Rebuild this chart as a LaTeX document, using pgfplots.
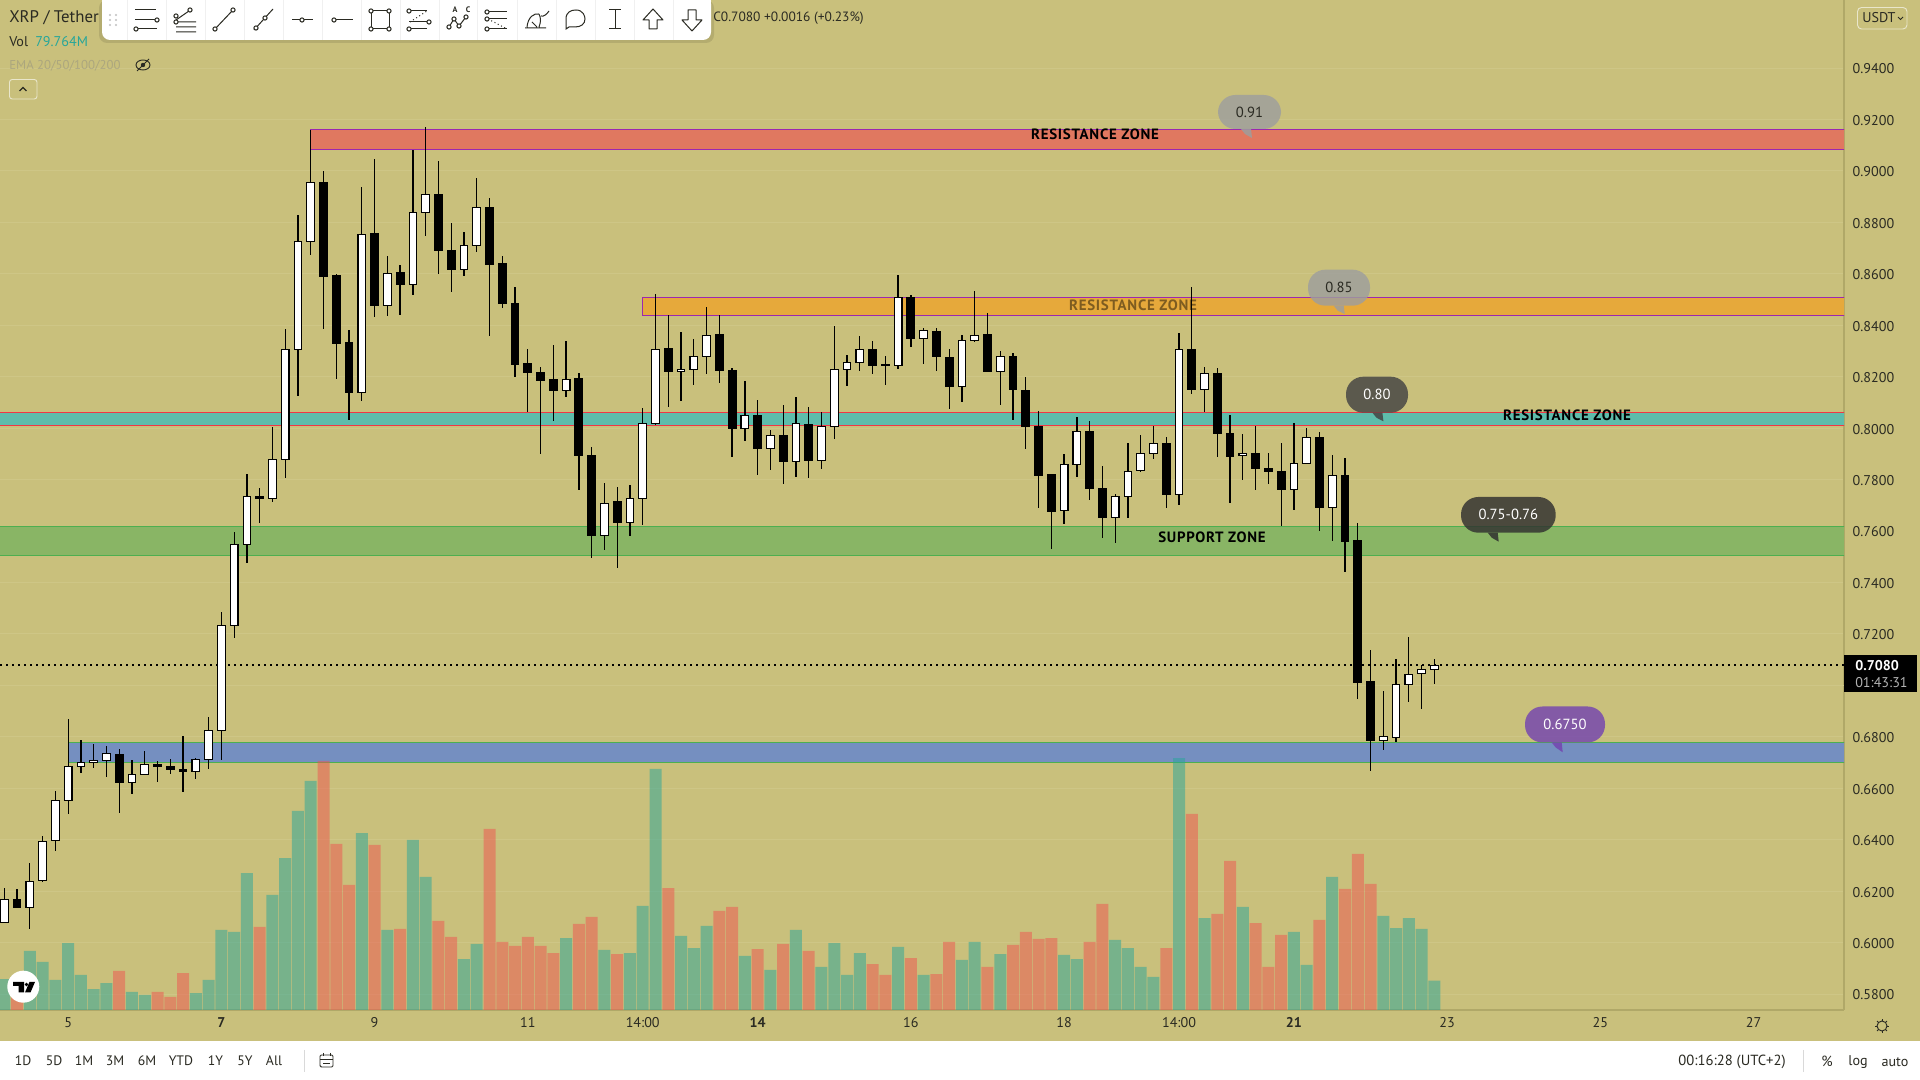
\documentclass[border=0pt]{standalone}
\usepackage{fontspec}
\setmainfont{PT Sans}
\newfontfamily\zonefont[LetterSpace=5]{PT Sans}
\usepackage{pgfplots}
\usepackage{pgfplotstable}
\pgfplotsset{compat=1.18}
\definecolor{bgc}{HTML}{C9C07C}
\definecolor{gridc}{HTML}{CEC686}
\definecolor{axc}{HTML}{B0A868}
\definecolor{txt}{HTML}{2A2A22}
\definecolor{zredf}{HTML}{E07860}
\definecolor{zorgf}{HTML}{E6A93B}
\definecolor{ztealf}{HTML}{5EBCAB}
\definecolor{zgrnf}{HTML}{89B565}
\definecolor{zbluf}{HTML}{758FC0}
\definecolor{zpurl}{HTML}{9C27B0}
\definecolor{zredl}{HTML}{F23645}
\definecolor{zgrnl}{HTML}{4CAF50}
\definecolor{volg}{HTML}{26A69A}
\definecolor{volr}{HTML}{EF5350}
\definecolor{bub1}{HTML}{9E9E9E}
\definecolor{bub2}{HTML}{434343}
\definecolor{bub3}{HTML}{303030}
\definecolor{bub4}{HTML}{7444B0}
\pgfplotstableread{
i low bot top high up vol
0 .6077 .6077 .6168 .6211 1 84.3
1 .6135 .6135 .6168 .6207 0 54.4
2 .6054 .6137 .6238 .6308 1 160.5
3 .6235 .6240 .6393 .6413 1 130.6
4 .6357 .6397 .6553 .6588 1 81.6
5 .6501 .6553 .6685 .6869 1 182.2
6 .6660 .6684 .6701 .6786 1 95.2
7 .6680 .6701 .6708 .6771 1 57.1
8 .6645 .6707 .6736 .6763 1 73.4
9 .6505 .6621 .6732 .6751 0 106.1
10 .6579 .6621 .6654 .6708 1 49.0
11 .6654 .6654 .6693 .6743 1 40.8
12 .6625 .6684 .6693 .6705 0 49.0
13 .6656 .6672 .6685 .6712 0 35.4
14 .6586 .6664 .6673 .6802 0 100.6
15 .6637 .6666 .6712 .6716 1 46.2
16 .6676 .6712 .6825 .6876 1 81.6
17 .6710 .6825 .7233 .7285 1 217.6
18 .7185 .7233 .7548 .7595 1 212.2
19 .7477 .7548 .7735 .7820 1 372.6
20 .7632 .7725 .7735 .7766 0 225.8
21 .7714 .7725 .7879 .8004 1 312.8
22 .7807 .7879 .8306 .8385 1 413.4
23 .8126 .8306 .8726 .8827 1 541.3
24 .8674 .8726 .8956 .9159 1 622.9
25 .8386 .8589 .8953 .9000 0 677.3
26 .8192 .8328 .8591 .8599 0 451.5
27 .8033 .8138 .8331 .8381 0 340.0
28 .8106 .8138 .8753 .8937 1 481.4
29 .8433 .8476 .8755 .9046 0 448.8
30 .8437 .8476 .8602 .8669 1 217.6
31 .8441 .8558 .8603 .8634 0 220.3
32 .8519 .8559 .8839 .9081 1 462.4
33 .8748 .8839 .8909 .9170 1 361.8
34 .8600 .8690 .8909 .9038 0 242.1
35 .8530 .8616 .8691 .8797 0 198.6
36 .8592 .8616 .8711 .8761 1 138.7
37 .8686 .8711 .8858 .8971 1 179.5
38 .8359 .8635 .8858 .8893 0 492.3
39 .8468 .8484 .8638 .8669 0 185.0
40 .8200 .8246 .8486 .8549 0 174.1
41 .8064 .8215 .8249 .8308 0 198.6
42 .7900 .8184 .8214 .8238 0 174.1
43 .8028 .8145 .8187 .8322 0 155.0
44 .8122 .8145 .8190 .8337 1 195.8
45 .7760 .7893 .8191 .8213 0 233.9
46 .7496 .7582 .7895 .7927 0 253.0
47 .7527 .7582 .7708 .7787 1 163.2
48 .7457 .7632 .7713 .7771 0 152.3
49 .7582 .7632 .7727 .7779 1 155.0
50 .7624 .7725 .8019 .8077 1 282.9
51 .8012 .8017 .8306 .8520 1 655.5
52 .8083 .8219 .8308 .8439 0 331.8
53 .8106 .8219 .8229 .8372 1 201.3
54 .8169 .8229 .8279 .8345 1 168.6
55 .8212 .8279 .8361 .8470 1 228.5
56 .8177 .8223 .8362 .8439 0 269.3
57 .7889 .7998 .8225 .8232 0 280.2
58 .7951 .7998 .8050 .8182 1 146.9
59 .7819 .7920 .8050 .8108 0 165.9
60 .7838 .7920 .7972 .7991 1 108.8
61 .7784 .7869 .7972 .8089 0 179.5
62 .7811 .7871 .8019 .8120 1 217.6
63 .7807 .7873 .8015 .8081 0 160.5
64 .7842 .7873 .8007 .8061 1 117.0
65 .7959 .8007 .8229 .8396 1 182.2
66 .8165 .8229 .8256 .8283 1 95.2
67 .8223 .8256 .8306 .8357 1 155.0
68 .8212 .8243 .8306 .8337 0 125.1
69 .8169 .8243 .8248 .8279 0 95.2
70 .8231 .8244 .8508 .8594 1 171.4
71 .8316 .8348 .8508 .8516 0 141.4
72 .8250 .8349 .8380 .8388 1 95.2
73 .8223 .8278 .8376 .8388 0 97.9
74 .8075 .8161 .8275 .8306 0 185.0
75 .8103 .8163 .8341 .8361 1 136.0
76 .8336 .8341 .8361 .8532 1 185.0
77 .8219 .8219 .8365 .8446 0 117.0
78 .8091 .8221 .8279 .8299 1 152.3
79 .8033 .8149 .8279 .8291 0 176.8
80 .7920 .8005 .8147 .8197 0 212.2
81 .7690 .7815 .8007 .8065 0 193.1
82 .7531 .7675 .7821 .7821 0 195.8
83 .7628 .7680 .7859 .7898 1 149.6
84 .7811 .7859 .7987 .8042 1 138.7
85 .7722 .7764 .7987 .8026 0 185.0
86 .7574 .7652 .7766 .7851 0 288.3
87 .7554 .7653 .7733 .7743 1 190.4
88 .7652 .7733 .7832 .7941 1 168.6
89 .7830 .7834 .7902 .7972 1 117.0
90 .7881 .7902 .7941 .8007 1 89.8
91 .7690 .7741 .7941 .7964 0 168.6
92 .7702 .7742 .8306 .8369 1 685.4
93 .8134 .8149 .8306 .8547 0 533.1
94 .8064 .8151 .8213 .8236 1 250.2
95 .7889 .7978 .8213 .8232 0 261.1
96 .7710 .7889 .7980 .8050 0 405.3
97 .7799 .7894 .7902 .7976 1 280.2
98 .7760 .7842 .7902 .8007 0 236.6
99 .7784 .7832 .7844 .7902 0 117.0
100 .7620 .7760 .7832 .7941 0 204.0
101 .7683 .7762 .7863 .8019 1 212.2
102 .7863 .7863 .7964 .7999 1 122.4
103 .7601 .7690 .7964 .7984 0 244.8
104 .7562 .7692 .7816 .7894 1 361.8
105 .7442 .7558 .7816 .7882 0 329.1
106 .6948 .7010 .7561 .7630 0 424.3
107 .6668 .6785 .7013 .7136 0 342.7
108 .6750 .6786 .6802 .6977 1 255.7
109 .6781 .6798 .7004 .7101 1 223.0
110 .6936 .7004 .7043 .7187 1 250.2
111 .6909 .7047 .7062 .7078 1 220.3
112 .7006 .7062 .7078 .7101 1 79.764
}\candles
\pgfplotsset{
  chartbase/.style={scale only axis,width=1383pt,height=757.5pt,at={(0pt,52.5pt)},anchor=south west,
    xmin=-0.3368,xmax=144.08,enlargelimits=false,clip=true},
  priceaxis/.style={chartbase,ymin=0.57375,ymax=0.96644},
  zone/.style n args={2}{fill=#1,draw=#2,line width=0.85pt},
}
\newcommand{\bubble}[9]{%
  \fill[#7,opacity=.82,rounded corners=13pt] (#1,#2) rectangle (#3,#4);
  \fill[#7,opacity=.85] (#5-11,#4) -- (#5-1,#4) -- (#5,#6) -- (#5-7,#4+5) -- cycle;
  \node[text=#8,font=\fontsize{11}{12}\selectfont] at ({(#1+#3)/2},{(#2+#4)/2}) {#9};}
\begin{document}
\begin{tikzpicture}
\path[use as bounding box] (0,0) rectangle (1440pt,810pt);
\fill[white] (0,0) rectangle (1440pt,810pt);
\fill[bgc] (0,29.25pt) rectangle (1440pt,810pt);
% zones, price scale and time scale
\begin{axis}[priceaxis,
  axis x line=bottom,axis y line=right,axis line style={axc,-,line width=0.8pt},
  ytick={0.58,0.60,0.62,0.64,0.66,0.68,0.72,0.74,0.76,0.78,0.80,0.82,0.84,0.86,0.88,0.90,0.92,0.94},
  extra y ticks={0.70},extra y tick labels={},
  ymajorgrids,major grid style={gridc,line width=0.6pt},
  major tick length=0pt,
  tick label style={font=\fontsize{10.6}{12}\selectfont,text=txt},
  yticklabel style={yshift=-0.8pt,/pgf/number format/.cd,fixed,fixed zerofill,precision=4,assume math mode=true},
  yticklabel shift=3pt,
  xtick={5,17,29,41,50,59,71,83,92,101,113,125,137},
  xticklabels={5,{\bfseries 7},9,11,14:00,{\bfseries 14},16,18,14:00,{\bfseries 21},23,25,27},
  xticklabel shift=2pt,
]
\addplot[zone={zredf}{zpurl}] coordinates {(24,.9084)(144.2,.9084)(144.2,.9162)(24,.9162)} --cycle;
\addplot[zone={zorgf}{zpurl}] coordinates {(50,.8439)(144.2,.8439)(144.2,.8508)(50,.8508)} --cycle;
\addplot[zone={ztealf}{zredl}] coordinates {(-1,.8011)(144.2,.8011)(144.2,.8060)(-1,.8060)} --cycle;
\addplot[zone={zgrnf}{zgrnl}] coordinates {(-1,.7505)(144.2,.7505)(144.2,.7618)(-1,.7618)} --cycle;
\addplot[zone={zbluf}{zgrnl}] coordinates {(5,.6699)(144.2,.6699)(144.2,.6778)(5,.6778)} --cycle;
\end{axis}
% volume
\begin{axis}[chartbase,hide axis,ymin=0,ymax=2747.2,ybar,bar width=9pt]
\addplot[bar shift=0pt,draw=none,fill=volg,fill opacity=.5,restrict expr to domain={\thisrow{up}}{0.5:1.5}] table[x=i,y=vol] {\candles};
\addplot[bar shift=0pt,draw=none,fill=volr,fill opacity=.5,restrict expr to domain={\thisrow{up}}{-0.5:0.5}] table[x=i,y=vol] {\candles};
\end{axis}
\begin{scope}[x=0.75pt,y=-0.75pt,yshift=810pt]
\node[text=black,font=\fontsize{11.2}{12}\zonefont\bfseries] at (1095,134.7) {RESISTANCE ZONE};
\node[text=black,font=\fontsize{11.2}{12}\zonefont\bfseries] at (1567,415.7) {RESISTANCE ZONE};
\node[text=black,font=\fontsize{11.2}{12}\zonefont\bfseries] at (1212,537.5) {SUPPORT ZONE};
\node[text=black,text opacity=.45,font=\fontsize{11.2}{12}\zonefont\bfseries] at (1133,305.5) {RESISTANCE ZONE};
\end{scope}
% candles
\begin{axis}[priceaxis,hide axis]
\addplot[black,line width=1.4pt,dash pattern=on 1.5pt off 3pt] coordinates {(-0.3368,.7080)(144.08,.7080)};
\pgfplotsinvokeforeach{0,...,112}{%
  \pgfplotstablegetelem{#1}{up}\of\candles
  \ifnum\pgfplotsretval=1 \def\fc{white}\else\def\fc{black}\fi
  \pgfplotstablegetelem{#1}{low}\of\candles \let\vlow\pgfplotsretval
  \pgfplotstablegetelem{#1}{bot}\of\candles \let\vbot\pgfplotsretval
  \pgfplotstablegetelem{#1}{top}\of\candles \let\vtop\pgfplotsretval
  \pgfplotstablegetelem{#1}{high}\of\candles \let\vhigh\pgfplotsretval
  \pgfmathsetmacro\xl{#1-0.3}\pgfmathsetmacro\xr{#1+0.3}
  \edef\temp{\noexpand\addplot[black,line width=0.95pt,mark=none] coordinates {(#1,\vlow)(#1,\vhigh)};
    \noexpand\addplot[fill=\fc,draw=black,line width=0.85pt,mark=none] coordinates {(\xl,\vbot)(\xr,\vbot)(\xr,\vtop)(\xl,\vtop)} --cycle;}\temp
}
\end{axis}
% chart furniture, in pixel coordinates
\begin{scope}[x=0.75pt,y=-0.75pt,yshift=810pt]
\bubble{1218}{95}{1281}{129}{1252}{138}{bub1}{txt}{0.91}
\bubble{1308}{269.7}{1370}{305.7}{1344.7}{314}{bub1}{txt}{0.85}
\bubble{1346}{376.7}{1408}{412.7}{1383.4}{421.3}{bub2}{white}{0.80}
\bubble{1461}{497}{1555.7}{532.7}{1498.7}{541.7}{bub3}{white}{0.75-0.76}
\bubble{1525}{706.5}{1605}{742.5}{1562.7}{752.3}{bub4}{white}{0.6750}
% price tag
\fill[black] (1844,655) rectangle (1916.7,692);
\node[anchor=west,inner sep=0,text=white,font=\fontsize{10.6}{12}\selectfont\bfseries] at (1855,666) {0.7080};
\node[anchor=west,inner sep=0,text=white!70!black,font=\fontsize{10.6}{12}\selectfont] at (1855,683) {01:43:31};
% currency button
\draw[white!60!bgc,rounded corners=3pt,line width=.7pt] (1857.5,7.5) rectangle (1907,29);
\node[anchor=west,inner sep=0,text=txt,font=\fontsize{10.6}{12}\selectfont] at (1862,18) {USDT};
\draw[txt,line width=.7pt] (1898,17) -- (1900.5,19.5) -- (1903,17);
% top left legend
\node[anchor=west,inner sep=0,text=txt,font=\fontsize{12.6}{14}\selectfont] at (9,18) {XRP / Tether};
\node[anchor=west,inner sep=0,text=txt,font=\fontsize{10.6}{12}\selectfont] at (9,42) {Vol};
\node[anchor=west,inner sep=0,text=volg,font=\fontsize{10.6}{12}\selectfont] at (35,42) {79.764M};
\node[anchor=west,inner sep=0,text=gray,text opacity=.4,font=\fontsize{9.6}{12}\selectfont] at (9,66) {EMA 20/50/100/200};
\draw[txt,line width=.7pt] (143,65) circle[x radius=7,y radius=5];
\fill[txt] (143,65) circle (2.2);
\draw[txt,line width=.7pt] (137,71) -- (149,59);
\draw[white!60!bgc,rounded corners=2pt,line width=.7pt] (9.5,79.5) rectangle (37,99);
\draw[txt,line width=.9pt] (19.5,91) -- (23,87.5) -- (26.5,91);
\node[anchor=west,inner sep=0,text=txt,font=\fontsize{10.1}{12}\selectfont] at (713,18) {C0.7080 +0.0016 (+0.23\%)};
% toolbar
\fill[black,opacity=.10,rounded corners=6pt] (99,0) rectangle (714,43);
\fill[white,rounded corners=6pt] (102,-4) rectangle (711,40);
\fill[white] (102,-4) rectangle (711,10);
\foreach \q in {110,116} \foreach \w in {15,20,25} \fill[gray!50] (\q,\w) circle (1.2);
\foreach \q in {127,166,205,244,283,322,361,400,439,477,517,556,595,634,673} \draw[gray!12,line width=.5pt] (\q,0) -- (\q,40);
\begin{scope}[line width=.75pt,txt]
 \def\dt(#1,#2){\draw[fill=white] (#1,#2) circle (2.1);}
 \draw (135,10) -- (156,10) (135,20) -- (155,20) (137,29) -- (157,29); \dt(157,20) \dt(136,29)
 \draw (176,22) -- (196,22) (176,27) -- (196,27) (176,32) -- (196,32) (176,20) -- (189,11); \dt(176,16) \dt(190,10) \dt(176,22)
 \draw (215,29) -- (233,10); \dt(215,29) \dt(233,10)
 \draw (254,30) -- (273,9); \dt(256,28) \dt(265,18)
 \draw (292,20) -- (313,20); \dt(302,20)
 \draw (334,20) -- (353,20); \dt(334,20)
 \draw (371,11) rectangle (389,29); \dt(371,11) \dt(389,11) \dt(371,29) \dt(389,29)
 \draw (409,11) -- (427,11) (409,22) -- (429,22) (409,29) -- (427,29); \draw[dotted] (410,22) -- (427,11); \dt(409,11) \dt(429,22) \dt(409,29)
 \draw (449,27) -- (454,19) -- (459,26) -- (466,17); \dt(449,27) \dt(454,19) \dt(459,26) \dt(466,17)
 \node[inner sep=0,font=\fontsize{6}{7}\selectfont\bfseries] at (455,10) {A};
 \node[inner sep=0,font=\fontsize{6}{7}\selectfont\bfseries] at (468,10) {C};
 \draw (487,12) -- (507,12) (487,19) -- (507,19) (487,29) -- (507,29); \draw[dotted] (488,19) -- (507,29); \dt(487,12) \dt(487,19) \dt(487,29)
 \draw (525,28) -- (546,28) (527,27) .. controls (528,17) and (534,13) .. (539,14) (532,22) -- (537,27) (539,14) .. controls (541,18) and (541,22) .. (539,27) (541,16) .. controls (544,17) and (547,14) .. (549,11);
 \draw (566,29) -- (566,19) .. controls (566,12) and (571,10) .. (576,10) .. controls (583,10) and (585,16) .. (585,19) .. controls (585,24) and (581,27) .. (575,27) -- (569,27) -- cycle;
 \draw (615,10) -- (615,29) (609,10) -- (621,10) (609,29) -- (621,29);
 \draw[line join=round] (653,9) -- (663,20) -- (657,20) -- (657,29) -- (649,29) -- (649,20) -- (643,20) -- cycle;
 \draw[line join=round] (692,31) -- (702,20) -- (696,20) -- (696,10) -- (688,10) -- (688,20) -- (682,20) -- cycle;
\end{scope}
% TradingView badge
\fill[white] (23.3,986.7) circle (16);
\fill[black] (13,982) rectangle (24,986) (18.5,982) rectangle (24,992.5);
\fill[black] (26.5,984.5) circle (1.9);
\fill[black] (25,992.5) -- (29.5,982) -- (35,982) -- (30.5,992.5) -- cycle;
% gear
\draw[txt,line width=.7pt] (1882,1026) circle (5);
\foreach \a in {0,45,...,315} \draw[txt,line width=.7pt] (1882,1026) ++(\a:5) -- ++(\a:2);
% bottom bar
\foreach \p/\t in {23/1D,54/5D,84/1M,115/3M,147/6M,181/YTD,215.5/1Y,245/5Y,274/All}
  \node[inner sep=0,text=txt,font=\fontsize{10.3}{12}\selectfont] at (\p,1061) {\t};
\draw[gray!30,line width=.6pt] (304,1050) -- (304,1072);
\draw[txt,line width=.7pt,rounded corners=1pt] (320,1055) rectangle (333,1067);
\draw[txt,line width=.7pt] (320,1059) -- (333,1059) (323,1053) -- (323,1056) (330,1053) -- (330,1056) (323,1063) -- (330,1063);
\node[inner sep=0,text=txt,font=\fontsize{11}{12}\selectfont] at (1732,1061.7) {00:16:28 (UTC+2)};
\draw[gray!30,line width=.6pt] (1803,1050) -- (1803,1072);
\node[inner sep=0,text=txt,font=\fontsize{11}{12}\selectfont] at (1827,1061.7) {\%};
\node[inner sep=0,text=txt,font=\fontsize{10.6}{12}\selectfont] at (1858,1061.7) {log};
\node[inner sep=0,text=txt,font=\fontsize{10.6}{12}\selectfont] at (1895,1061.7) {auto};
\end{scope}
\end{tikzpicture}
\end{document}
